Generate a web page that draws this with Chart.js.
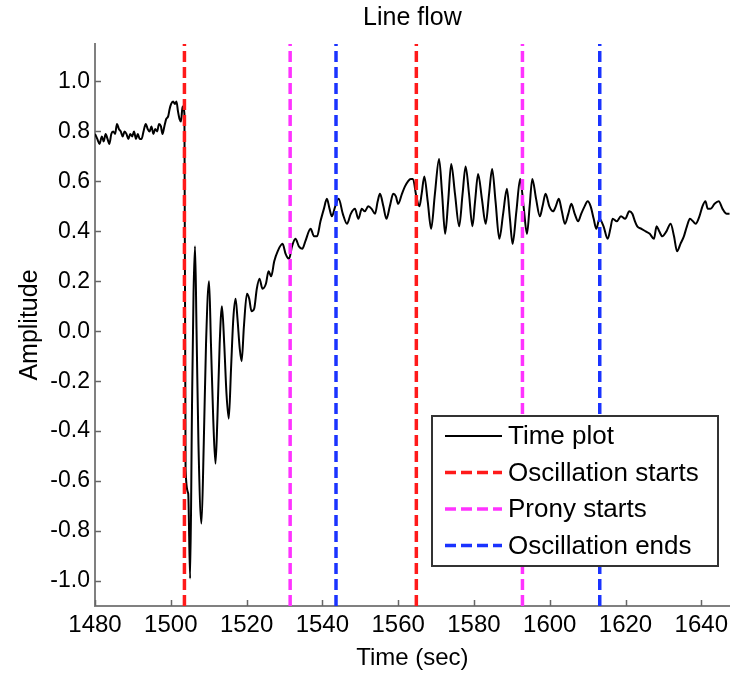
<!DOCTYPE html>
<html>
<head>
<meta charset="utf-8">
<script src="https://cdn.jsdelivr.net/npm/chart.js@4.4.1/dist/chart.umd.min.js"></script>
<style>
html,body{margin:0;padding:0;background:#fff;}
#wrap{width:733px;height:674px;position:relative;}
</style>
</head>
<body>
<div id="wrap"><canvas id="c" width="733" height="674"></canvas></div>
<script>
// ---- data ----
const times = [
1480.0,1480.6,1481.2,1481.8,1482.3,1482.8,1483.3,1483.8,1484.3,1484.8,1485.3,1485.8,1486.3,1486.8,1487.3,1487.8,1488.3,1488.8,1489.3,1489.8,
1490.3,1490.8,1491.3,1491.8,1492.3,1492.8,1493.4,1493.9,1494.4,1494.9,1495.4,1495.9,1496.4,1496.9,1497.4,1497.8,1498.3,1498.8,1499.3,1499.7,
1500.1,1500.6,1501.1,1501.5,1501.9,1502.3,1502.7,1503.1,1503.6,1503.9,1504.6,1505.1,1505.6,1506.0,1506.4,1506.8,1507.3,1508.1,1508.7,1509.3,
1510.1,1510.6,1511.2,1511.8,1512.3,1512.9,1513.5,1514.1,1514.7,1515.3,1515.9,1516.5,1517.1,1517.6,1518.2,1518.7,1519.3,1520.1,1520.7,1521.3,
1522.0,1522.7,1523.4,1524.2,1525.1,1525.8,1526.5,1527.3,1528.2,1529.5,1530.3,1531.2,1532.0,1532.9,1533.8,1534.7,1535.5,1536.9,1537.8,1538.6,
1539.5,1540.4,1541.2,1541.9,1542.5,1543.4,1544.3,1545.4,1546.5,1547.5,1548.6,1549.5,1550.4,1551.2,1552.1,1553.0,1553.9,1554.6,1555.2,1556.1,
1556.9,1557.8,1558.7,1559.4,1560.0,1561.0,1561.8,1562.6,1563.3,1563.9,1564.8,1565.6,1566.2,1566.9,1567.8,1568.7,1569.7,1570.8,1571.6,1572.4,
1573.2,1574.0,1575.0,1576.1,1577.0,1577.8,1578.7,1579.6,1580.3,1581.1,1582.1,1583.1,1584.0,1584.8,1585.7,1586.7,1587.7,1588.7,1589.5,1590.2,
1591.2,1592.2,1593.1,1594.0,1594.7,1595.4,1596.4,1597.4,1598.1,1598.9,1599.9,1600.9,1601.6,1602.4,1603.2,1604.0,1604.9,1605.7,1606.6,1607.5,
1608.3,1609.2,1610.0,1610.8,1611.6,1612.3,1613.1,1614.2,1615.3,1616.0,1616.6,1617.7,1618.8,1619.9,1621.0,1621.8,1622.5,1623.1,1624.2,1625.3,
1626.4,1627.5,1628.2,1628.9,1629.7,1630.8,1631.9,1632.8,1633.6,1634.5,1635.4,1636.2,1637.0,1637.8,1638.5,1639.5,1640.3,1641.1,1641.7,1642.4,
1643.5,1644.6,1645.6,1646.7,1647.5
];
const amplitude = [
0.79,0.77,0.75,0.78,0.76,0.79,0.77,0.75,0.79,0.80,0.79,0.83,0.81,0.80,0.78,0.80,0.79,0.77,0.79,0.78,
0.80,0.77,0.79,0.77,0.77,0.80,0.83,0.81,0.80,0.82,0.79,0.81,0.80,0.83,0.82,0.79,0.82,0.85,0.86,0.89,
0.91,0.92,0.91,0.92,0.88,0.85,0.84,0.90,0.87,-0.55,-0.65,-0.99,-0.30,0.15,0.34,0.00,-0.45,-0.77,-0.45,-0.05,
0.20,-0.05,-0.35,-0.53,-0.35,-0.05,0.10,-0.05,-0.25,-0.35,-0.15,0.05,0.13,0.05,-0.07,-0.12,0.02,0.15,0.13,0.08,
0.09,0.17,0.21,0.17,0.19,0.24,0.22,0.28,0.32,0.35,0.31,0.29,0.34,0.37,0.34,0.33,0.36,0.41,0.38,0.38,
0.44,0.49,0.53,0.49,0.46,0.50,0.53,0.47,0.43,0.47,0.49,0.45,0.49,0.48,0.50,0.49,0.47,0.52,0.55,0.50,
0.45,0.50,0.55,0.54,0.51,0.55,0.58,0.60,0.61,0.61,0.54,0.50,0.55,0.62,0.52,0.41,0.55,0.69,0.55,0.39,
0.52,0.67,0.55,0.42,0.55,0.66,0.55,0.42,0.52,0.63,0.53,0.43,0.55,0.65,0.52,0.37,0.47,0.57,0.45,0.35,
0.48,0.61,0.50,0.39,0.50,0.61,0.53,0.46,0.50,0.55,0.50,0.48,0.50,0.53,0.48,0.43,0.47,0.51,0.47,0.44,
0.47,0.50,0.52,0.50,0.45,0.41,0.45,0.42,0.37,0.41,0.45,0.44,0.46,0.45,0.48,0.47,0.44,0.42,0.41,0.40,
0.39,0.37,0.42,0.40,0.38,0.40,0.43,0.38,0.32,0.35,0.38,0.42,0.45,0.44,0.43,0.46,0.50,0.52,0.49,0.49,
0.51,0.52,0.49,0.47,0.47
];
const oscillationStarts = [1503.6, 1564.8];
const pronyStarts = [1531.5, 1592.8];
const oscillationEnds = [1543.6, 1613.2];
const xTicks = [1480,1500,1520,1540,1560,1580,1600,1620,1640];
const yTicks = [-1.0,-0.8,-0.6,-0.4,-0.2,0.0,0.2,0.4,0.6,0.8,1.0];
const xRange = [1480, 1647.5];
const yRange = [-1.1, 1.15];

const FONT = '"Liberation Sans", Arial, sans-serif';
const RED = '#ff1a1a', MAG = '#ff33ff', BLUE = '#1a33ff';

const datasets = [{
  label: 'Time plot',
  data: times.map((t,i)=>({x:t, y:amplitude[i]})),
  borderColor: '#000', borderWidth: 2, pointRadius: 0,
  cubicInterpolationMode: 'monotone', order: 1
}];
function vlines(arr, label, color){
  arr.forEach(t=>{
    datasets.push({
      label: label,
      data: [{x:t, y:yRange[0]},{x:t, y:yRange[1]}],
      borderColor: color, borderWidth: 3.5, borderDash: [11,5],
      pointRadius: 0, order: 0
    });
  });
}
vlines(oscillationStarts, 'Oscillation starts', RED);
vlines(pronyStarts, 'Prony starts', MAG);
vlines(oscillationEnds, 'Oscillation ends', BLUE);

const legendItems = [
  {label:'Time plot', color:'#000', dash:[]},
  {label:'Oscillation starts', color:RED, dash:[11,5]},
  {label:'Prony starts', color:MAG, dash:[11,5]},
  {label:'Oscillation ends', color:BLUE, dash:[11,5]}
];

const decor = {
  id: 'decor',
  afterDraw(chart){
    const ctx = chart.ctx, ca = chart.chartArea;
    const xs = chart.scales.x, ys = chart.scales.y;
    ctx.save();
    // inner ticks
    ctx.strokeStyle = '#666'; ctx.lineWidth = 1.5;
    xTicks.forEach(v=>{
      const px = Math.round(xs.getPixelForValue(v))+0.5;
      ctx.beginPath(); ctx.moveTo(px, ca.bottom); ctx.lineTo(px, ca.bottom-6); ctx.stroke();
    });
    yTicks.forEach(v=>{
      const py = Math.round(ys.getPixelForValue(v))+0.5;
      ctx.beginPath(); ctx.moveTo(ca.left, py); ctx.lineTo(ca.left+6, py); ctx.stroke();
    });
    // title
    ctx.fillStyle = '#000';
    ctx.font = '25px ' + FONT;
    ctx.textAlign = 'center'; ctx.textBaseline = 'middle';
    ctx.fillText('Line flow', (ca.left+ca.right)/2, 18);
    // legend
    const bx = 432, by = 416, bw = 286, bh = 150;
    ctx.fillStyle = '#fff'; ctx.fillRect(bx, by, bw, bh);
    ctx.strokeStyle = '#333'; ctx.lineWidth = 2;
    ctx.strokeRect(bx, by, bw, bh);
    ctx.font = '26px ' + FONT;
    ctx.textAlign = 'left'; ctx.textBaseline = 'middle';
    legendItems.forEach((it, i)=>{
      const y = 436 + i*36.5;
      ctx.strokeStyle = it.color; ctx.lineWidth = it.dash.length ? 3.5 : 2;
      ctx.setLineDash(it.dash);
      ctx.beginPath(); ctx.moveTo(445, y); ctx.lineTo(502, y); ctx.stroke();
      ctx.setLineDash([]);
      ctx.fillStyle = '#000';
      ctx.fillText(it.label, 508, y+1);
    });
    ctx.restore();
  }
};

new Chart(document.getElementById('c'), {
  type: 'line',
  data: { datasets },
  plugins: [decor],
  options: {
    responsive: false, animation: false,
    layout: { padding: { top: 44, right: 0, left: 0, bottom: 0 } },
    plugins: { legend: {display:false}, tooltip: {enabled:false}, title:{display:false} },
    scales: {
      x: {
        type: 'linear', min: xRange[0], max: xRange[1],
        afterBuildTicks: s => { s.ticks = xTicks.map(v=>({value:v})); },
        afterFit: s => { s.height = 68; },
        grid: { display: true, drawOnChartArea: false, drawTicks: false },
        border: { display: true, color: '#808080', width: 2 },
        ticks: { color:'#000', font:{family:FONT, size:24}, padding: 5, maxRotation:0, autoSkip:false,
                 callback: v => String(v) },
        title: { display: true, text: 'Time (sec)', color:'#000', font:{family:FONT, size:24}, padding:{top:0,bottom:1} }
      },
      y: {
        type: 'linear', min: yRange[0], max: yRange[1],
        afterBuildTicks: s => { s.ticks = yTicks.map(v=>({value:v})); },
        afterFit: s => { s.width = 95; },
        grid: { display: true, drawOnChartArea: false, drawTicks: false },
        border: { display: true, color: '#808080', width: 2 },
        ticks: { color:'#000', font:{family:FONT, size:23}, padding: 5, autoSkip:false,
                 callback: v => Number(v).toFixed(1) },
        title: { display: true, text: 'Amplitude', color:'#000', font:{family:FONT, size:25}, padding:{top:15,bottom:0} }
      }
    }
  }
});
</script>
</body>
</html>
